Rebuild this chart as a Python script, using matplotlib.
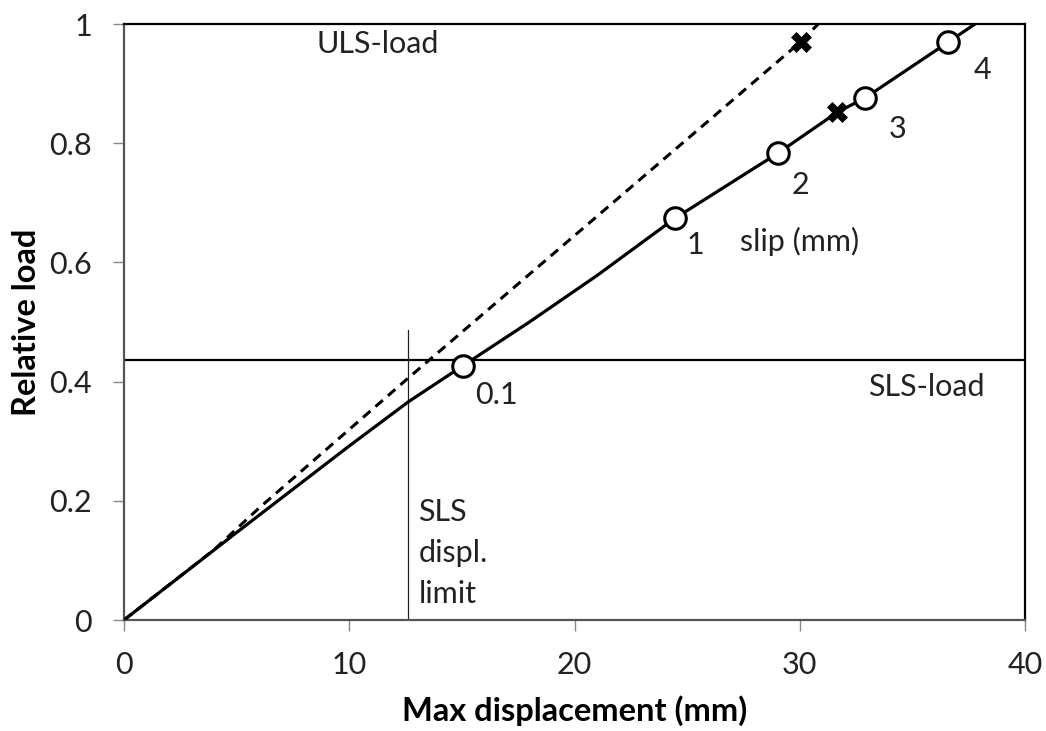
import matplotlib
matplotlib.use("Agg")
import matplotlib.pyplot as plt

plt.rcParams['font.family'] = ['Lato', 'DejaVu Sans']

# Data
solid_x = [0, 4.8, 10.0, 12.62, 15.06, 18.0, 21.0, 24.46, 29.02, 31.67, 32.90, 36.57, 37.78]
solid_y = [0, 0.141, 0.292, 0.366, 0.427, 0.500, 0.578, 0.674, 0.783, 0.852, 0.876, 0.969, 1.0]
dashed_x = [0, 4.0, 6.0, 12.62, 30.04, 30.82]
dashed_y = [0, 0.118, 0.188, 0.406, 0.970, 1.0]

slip_labels = ["0.1", "1", "2", "3", "4"]
slip_x = [15.06, 24.46, 29.02, 32.90, 36.57]
slip_y = [0.427, 0.674, 0.783, 0.876, 0.969]

cross_x = [31.67, 30.04]
cross_y = [0.852, 0.970]

sls_load = 0.4357
sls_displ = 12.62
sls_displ_top = 0.487

x_ticks = [0, 10, 20, 30, 40]
y_ticks = [0, 0.2, 0.4, 0.6, 0.8, 1]
y_tick_labels = ["0", "0.2", "0.4", "0.6", "0.8", "1"]

fig = plt.figure(figsize=(10.46, 7.31), dpi=100)
ax = fig.add_axes([124/1046, 1-620/731, (1025-124)/1046, (620-24)/731])

ax.axhline(sls_load, color='black', lw=1.6, zorder=2)
ax.plot([sls_displ, sls_displ], [0, sls_displ_top], color='#222222', lw=0.9, zorder=2)

ax.plot(dashed_x, dashed_y, color='black', lw=2.2, ls=(0, (3.2, 2.2)), zorder=3)
ax.plot(solid_x, solid_y, color='black', lw=2.3, zorder=3)
ax.plot(slip_x, slip_y, ls='none', marker='o', ms=15.5, mfc='white', mec='black', mew=2.2, zorder=5)
ax.plot(cross_x, cross_y, ls='none', marker='X', ms=15, mfc='black', mec='black', mew=0.5, zorder=5)

fs = 22
ax.text(8.55, 0.966, "ULS-load", fontsize=fs, va='center', ha='left', color='#222222')
ax.text(38.22, 0.391, "SLS-load", fontsize=fs, va='center', ha='right', color='#222222')
ax.text(27.35, 0.635, "slip (mm)", fontsize=fs, va='center', ha='left', color='#222222')

lbl_x = [15.58, 25.38, 30.02, 34.35, 38.11]
lbl_y = [0.3775, 0.629, 0.730, 0.824, 0.923]
for i, t in enumerate(slip_labels):
    ha = 'left' if i == 0 else 'center'
    ax.text(lbl_x[i], lbl_y[i], t, fontsize=fs, va='center', ha=ha, color='#222222')

for t, yb in zip(["SLS", "displ.", "limit"], [0.1666, 0.0978, 0.028]):
    ax.text(13.07, yb, t, fontsize=fs, va='baseline', ha='left', color='#222222')

ax.set_xlim(0, 40)
ax.set_ylim(0, 1)
ax.set_xticks(x_ticks)
ax.set_yticks(y_ticks)
ax.set_yticklabels(y_tick_labels)
ax.tick_params(axis='both', direction='out', length=8, width=1, color='#888888',
               labelsize=fs, labelcolor='#222222')
ax.tick_params(axis='y', pad=15)
ax.tick_params(axis='x', pad=14)

for s in ['top', 'right']:
    ax.spines[s].set_color('black')
    ax.spines[s].set_linewidth(1.6)
for s in ['left', 'bottom']:
    ax.spines[s].set_color('#555555')
    ax.spines[s].set_linewidth(1.6)

ax.set_xlabel("Max displacement (mm)", fontsize=23.5, fontweight='bold', labelpad=12)
ax.set_ylabel("Relative load", fontsize=23.5, fontweight='bold', labelpad=6)

fig.savefig("out.png", dpi=100)
